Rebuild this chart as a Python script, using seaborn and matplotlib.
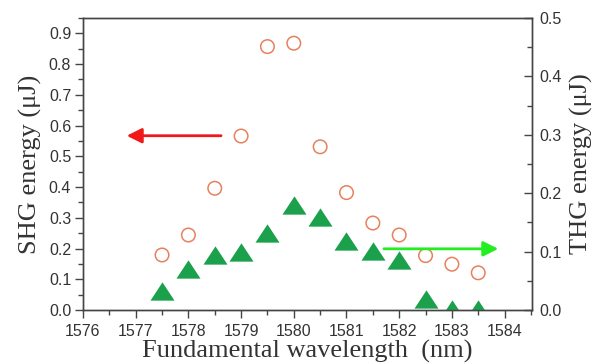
import matplotlib
matplotlib.use("Agg")
import matplotlib.pyplot as plt
from matplotlib.ticker import MultipleLocator
import seaborn as sns
import pandas as pd

wavelength = [1577.5, 1578.0, 1578.5, 1579.0, 1579.5, 1580.0, 1580.5,
              1581.0, 1581.5, 1582.0, 1582.5, 1583.0, 1583.5]
shg_energy = [0.179, 0.244, 0.396, 0.566, 0.857, 0.868, 0.531,
              0.382, 0.283, 0.244, 0.177, 0.149, 0.121]
thg_energy = [0.033, 0.070, 0.094, 0.100, 0.131, 0.179, 0.159,
              0.118, 0.101, 0.085, 0.018, 0.002, 0.002]

df = pd.DataFrame({"wl": wavelength, "shg": shg_energy, "thg": thg_energy})

sns.set_style("white")
plt.rcParams["font.family"] = ["Liberation Sans", "DejaVu Sans"]

fig = plt.figure(figsize=(6.07, 3.64), dpi=100)
ax = fig.add_axes([83/607, 1-310/364, (532-83)/607, (310-18)/364])
ax2 = ax.twinx()

circ_col = "#E8805E"
tri_col = "#1BA04C"

sns.scatterplot(data=df, x="wl", y="shg", ax=ax, marker="o", s=95,
                facecolor="none", edgecolor=circ_col, linewidth=1.1, legend=False, zorder=3)
tri = [(0, 0.76), (-1, -0.76), (1, -0.76)]
sns.scatterplot(data=df, x="wl", y="thg", ax=ax2, marker=tri, s=300,
                color=tri_col, edgecolor=tri_col, linewidth=0, legend=False, zorder=3)

ax.set_xlim(1576, 1584.52)
ax.set_ylim(0, 0.95)
ax2.set_ylim(0, 0.5)

spine_col = "#444444"
for a in (ax, ax2):
    for sp in a.spines.values():
        sp.set_color(spine_col)
        sp.set_linewidth(1.0)
        sp.set_visible(True)

ax.xaxis.set_major_locator(MultipleLocator(1))
ax.xaxis.set_minor_locator(MultipleLocator(0.5))
ax.yaxis.set_major_locator(MultipleLocator(0.1))
ax.yaxis.set_minor_locator(MultipleLocator(0.05))
ax2.yaxis.set_major_locator(MultipleLocator(0.1))
ax2.yaxis.set_minor_locator(MultipleLocator(0.05))
ax.xaxis.set_major_formatter(plt.FuncFormatter(lambda v, p: f"{v:.0f}"))
ax.yaxis.set_major_formatter(plt.FuncFormatter(lambda v, p: f"{v:.1f}"))
ax2.yaxis.set_major_formatter(plt.FuncFormatter(lambda v, p: f"{v:.1f}"))

lab_col = "#333333"
ax.tick_params(axis="both", which="major", direction="out", length=6, width=1,
               color=spine_col, labelsize=11.5, labelcolor=lab_col, pad=2.5,
               left=True, bottom=True, right=False, top=False)
ax.tick_params(axis="x", which="major", pad=4)
ax.tick_params(axis="both", which="minor", direction="out", length=3.5, width=1,
               color=spine_col, left=True, bottom=True, right=False, top=False)
ax2.tick_params(axis="y", which="major", direction="in", length=6, width=1,
                color=spine_col, labelsize=11.5, labelcolor=lab_col, pad=5,
                right=True, left=False)
ax2.tick_params(axis="y", which="minor", direction="in", length=3.5, width=1,
                color=spine_col, right=True, left=False)

serif = ["Liberation Serif", "DejaVu Serif"]
ax.set_xlabel("Fundamental wavelength  (nm)", family=serif, fontsize=19,
              color=lab_col, labelpad=1)
ax.set_ylabel("SHG energy (\u03bcJ)", family=serif, fontsize=19, color=lab_col, labelpad=5)
ax2.set_ylabel("THG energy (\u03bcJ)", family=serif, fontsize=19, color=lab_col,
               rotation=90, labelpad=6)

ax.annotate("", xy=(1576.83, 0.567), xytext=(1578.62, 0.567),
            arrowprops=dict(arrowstyle="-|>,head_length=0.9,head_width=0.45",
                            color="#F01818", lw=2, shrinkA=0, shrinkB=0))
ax.annotate("", xy=(1583.88, 0.199), xytext=(1581.71, 0.199),
            arrowprops=dict(arrowstyle="-|>,head_length=0.9,head_width=0.45",
                            color="#22EE22", lw=2, shrinkA=0, shrinkB=0))

ax.set_zorder(ax2.get_zorder() + 1)
ax.patch.set_visible(False)

fig.savefig("out.png", dpi=100)
